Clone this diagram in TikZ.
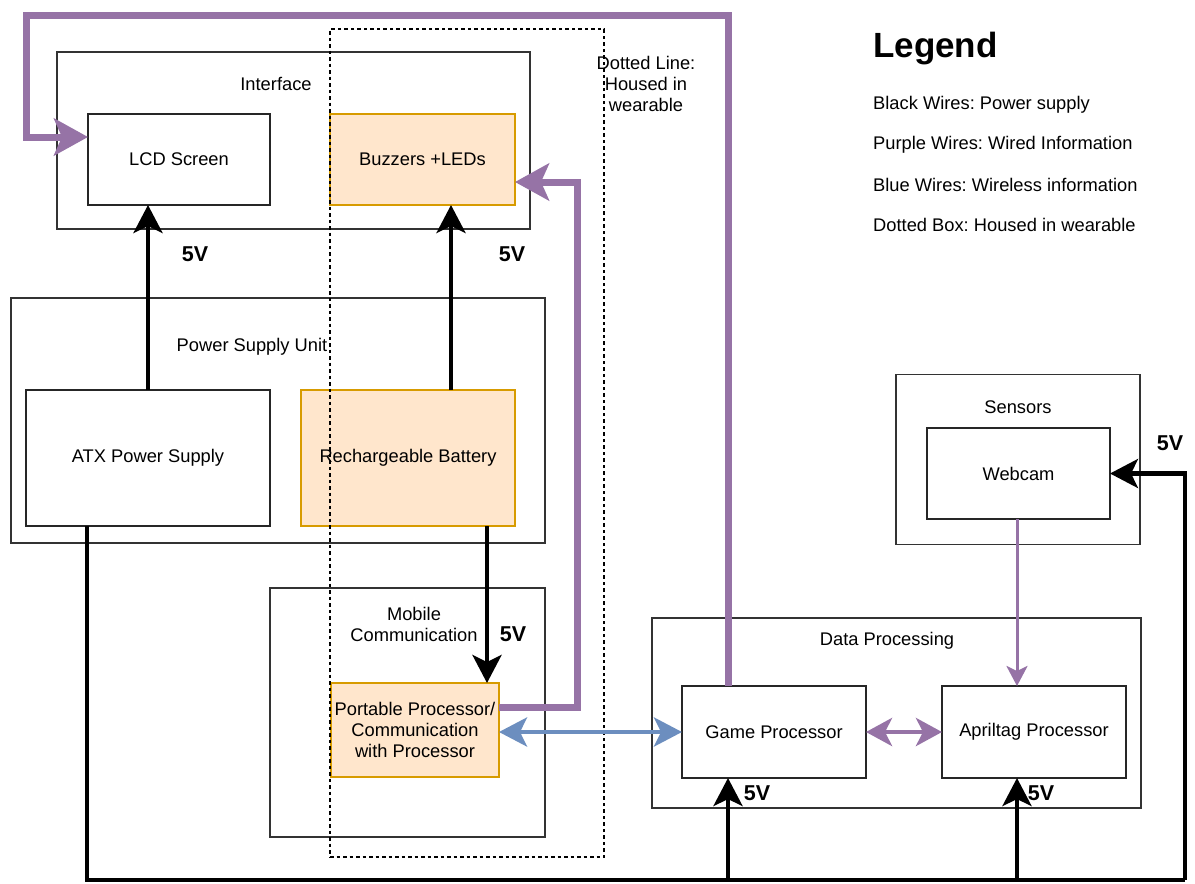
\documentclass[tikz,border=0pt]{standalone}
\usepackage{fontspec}
\setmainfont{Liberation Sans}
\usetikzlibrary{arrows.meta}
\definecolor{peach}{HTML}{FFE6CC}
\definecolor{peachline}{HTML}{D79B00}
\definecolor{purp}{HTML}{9673A6}
\definecolor{bluew}{HTML}{6C8EBF}
\newcommand\lblfont{\fontsize{18.3}{21}\selectfont}
\newcommand\vfont{\fontsize{21.5}{24}\selectfont\bfseries}
\frenchspacing
\begin{document}
\begin{tikzpicture}[x=1pt,y=-1pt,
  grp/.style={draw=black!80, line width=1.1pt, inner sep=0pt, outer sep=0pt, fill=white},
  box/.style={draw=black!85, line width=1.1pt, inner sep=0pt, outer sep=0pt, fill=white, font=\lblfont, align=center},
  orb/.style={box, fill=peach, draw=peachline},
  txt/.style={font=\lblfont, align=center, inner sep=0pt},
  vtxt/.style={font=\vfont, inner sep=0pt},
  ltxt/.style={font=\lblfont, anchor=west, inner sep=0pt},
  bwire/.style={line width=4.6pt, draw=black, -{Stealth[length=28pt,width=29pt,inset=7pt]}},
  bline/.style={line width=4.6pt, draw=black},
  pwire/.style={line width=7pt, draw=purp, -{Stealth[length=34pt,width=37pt,inset=8pt]}},
  pwire2/.style={line width=4.5pt, draw=purp, {Stealth[length=26pt,width=28pt,inset=7pt]}-{Stealth[length=26pt,width=28pt,inset=7pt]}},
  pwire3/.style={line width=3pt, draw=purp, -{Stealth[length=20pt,width=21pt,inset=5pt]}},
  blwire/.style={line width=4.5pt, draw=bluew, {Stealth[length=28pt,width=29pt,inset=7pt]}-{Stealth[length=28pt,width=29pt,inset=7pt]}},
  dottedbox/.style={draw=black, line width=1.1pt, dash pattern=on 3.5pt off 3pt, inner sep=0pt, outer sep=0pt}
]
\useasboundingbox (0,0) rectangle (1195,884);
\fill[white] (0,0) rectangle (1195,884);

% group boxes
\node[grp, minimum width=473pt, minimum height=177pt] (iface) at (293.5,140.5) {};
\node[grp, minimum width=534pt, minimum height=245pt] (psu) at (278,420.5) {};
\node[grp, minimum width=275pt, minimum height=249pt] (mob) at (407.5,712.5) {};
\node[grp, minimum width=489pt, minimum height=190pt] (dp) at (896.5,713) {};
\node[grp, minimum width=244pt, minimum height=170pt] (sens) at (1018,459.5) {};

% group labels
\node[txt] (ifacel) at (276,84) {Interface};
\node[txt] (psul) at (252,347) {Power Supply Unit};
\node[txt] (mobl) at (414,624) {Mobile\\Communication};
\node[txt] (dpl) at (887,641) {Data Processing};
\node[txt] (sensl) at (1018,407) {Sensors};

% inner boxes
\node[box, minimum width=182pt, minimum height=91pt] (lcd) at (179,159.5) {LCD Screen};
\node[orb, minimum width=185pt, minimum height=91pt] (buzz) at (422.5,159.5) {Buzzers +LEDs};
\node[box, minimum width=244pt, minimum height=136pt] (atx) at (148,458) {ATX Power Supply};
\node[orb, minimum width=214pt, minimum height=136pt] (batt) at (408,458) {Rechargeable Battery};
\node[orb, minimum width=168pt, minimum height=94pt] (port) at (415,730) {Portable Processor/\\Communication\\with Processor};
\node[box, minimum width=184pt, minimum height=92pt] (game) at (774,732) {Game Processor};
\node[box, minimum width=184pt, minimum height=92pt] (april) at (1034,732) {Apriltag Processor};
\node[box, minimum width=183pt, minimum height=91pt] (web) at (1018.5,473.5) {Webcam};

% dotted wearable box
\node[dottedbox, minimum width=274pt, minimum height=828pt] (wear) at (467,443) {};
\node[txt, fill=none] (wearl) at (646,84) {Dotted Line:\\Housed in\\wearable};

% power wires
\draw[bwire] (atx.north) -- (atx.north |- lcd.south);
\draw[bwire] ([xshift=43pt]batt.north) -- ([xshift=43pt]batt.north |- buzz.south);
\draw[bwire] ([xshift=79pt]batt.south) -- ([xshift=79pt]batt.south |- port.north);
\coordinate (busL) at (87,880);
\coordinate (busR) at (1185,880);
\coordinate (busG) at (728,880);
\coordinate (busA) at (1017,880);
\draw[bline] ([xshift=-61pt]atx.south) -- (busL) -- (busR);
\draw[bwire, line join=miter] (busR) |- (web.east);
\draw[bwire] (busG) -- ([xshift=-46pt]game.south);
\draw[bwire] (busA) -- ([xshift=-17pt]april.south);

% information wires
\draw[pwire, line join=miter] ([xshift=-46pt]game.north) |- (26,15) |- ([yshift=22.5pt]lcd.west);
\draw[pwire, line join=miter] ([yshift=23pt]port.east) -| (577,182) -- ([yshift=-22.5pt]buzz.east);
\draw[pwire3] ([xshift=-1.5pt]web.south) -- ([xshift=-1.5pt]web.south |- april.north);
\draw[pwire2] (game.east) -- (april.west);
\draw[blwire] (port.east |- game.west) -- (game.west);

% voltage labels
\node[vtxt] (v1) at (195,254) {5V};
\node[vtxt] (v2) at (512,254) {5V};
\node[vtxt] (v3) at (513,634) {5V};
\node[vtxt] (v4) at (757,793) {5V};
\node[vtxt] (v5) at (1041,793) {5V};
\node[vtxt] (v6) at (1170,443) {5V};

% legend
\node[font=\fontsize{35}{40}\selectfont\bfseries, anchor=west, inner sep=0pt] (leg) at (873,49) {Legend};
\node[ltxt] (l1) at (873,105) {Black Wires: Power supply};
\node[ltxt] (l2) at (873,145) {Purple Wires: Wired Information};
\node[ltxt] (l3) at (873,185) {Blue Wires: Wireless information};
\node[ltxt] (l4) at (873,225) {Dotted Box: Housed in wearable};
\end{tikzpicture}
\end{document}
